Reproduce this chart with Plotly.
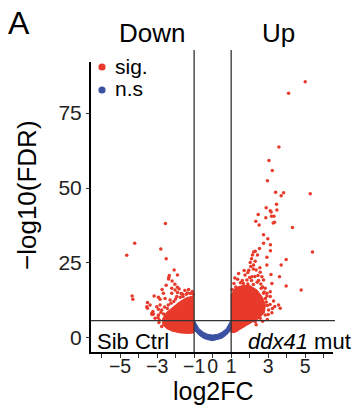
import plotly.graph_objects as go

# ---------------- data ----------------
# individual significant points, up-regulated side
sig_up_x = [5.0, 4.10, 3.58, 3.04, 3.22, 2.96, 3.40, 3.83, 3.70, 5.27, 3.45, 2.89, 3.11, 3.16, 2.46,
            3.47, 2.87, 3.18, 3.31, 2.33, 2.51, 3.27, 3.34, 4.31, 2.75, 2.98, 2.75, 3.12, 2.53, 2.21,
            2.30, 2.15, 2.42, 3.12, 5.39, 3.97, 2.93, 2.03, 2.06, 2.21, 2.93, 3.70, 2.35, 2.57, 3.15,
            3.61, 2.66, 2.75, 3.20, 3.97, 4.78, 2.84, 3.11, 2.93, 3.29, 3.23, 1.66, 1.85, 2.12, 1.49,
            3.65, 2.93, 3.56, 3.02, 2.84, 2.57, 2.30, 3.11, 2.75,
            1.2, 1.4, 1.7, 1.9, 2.2, 2.45, 2.6, 2.7, 2.9, 2.95, 3.1, 2.7, 2.55, 2.4, 2.1, 1.8, 1.5, 1.3, 2.0,
            3.0, 2.95, 2.7, 2.35, 3.2, 3.35, 1.15, 1.35, 1.5, 1.75, 1.95, 2.1, 2.28, 2.48, 2.62, 2.78,
            2.85, 2.2, 1.9, 1.6, 2.55, 2.3, 2.1, 1.05, 1.25, 1.45, 2.0, 2.4]
sig_up_y = [85.4, 81.6, 63.7, 59.2, 55.8, 52.4, 48.6, 48.4, 47.4, 48.1, 44.6, 43.4, 42.4, 42.0, 41.2,
            42.7, 40.1, 40.6, 40.6, 38.9, 37.7, 38.3, 38.6, 36.8, 34.4, 33.1, 31.6, 31.1, 29.8, 28.7,
            28.9, 27.7, 27.7, 29.1, 28.7, 26.2, 26.9, 25.2, 23.8, 24.3, 24.3, 24.3, 22.7, 21.9, 21.2,
            20.4, 20.4, 19.3, 18.2, 17.3, 16.0, 16.6, 15.4, 14.0, 12.3, 9.8, 18.2, 19.3, 20.4, 16.6,
            9.9, 14.9, 11.0, 9.3, 7.7, 6.6, 5.4, 13.8, 14.9,
            20.0, 21.5, 22.5, 21.8, 23.0, 20.8, 18.0, 17.0, 12.0, 10.8, 11.2, 9.0, 8.5, 7.2, 6.0, 4.8, 3.6, 2.7, 5.3,
            7.8, 6.2, 5.6, 4.4, 8.4, 10.5, 18.2, 19.6, 18.4, 21.0, 22.6, 19.2, 20.5, 19.2, 16.6, 15.3,
            13.2, 17.8, 18.0, 19.2, 23.4, 25.6, 26.4, 16.2, 17.0, 16.8, 20.2, 18.6]

# individual significant points, down-regulated side
sig_down_x = [-2.55, -4.21, -4.64, -2.80, -2.51, -2.08, -1.90, -2.34, -2.37, -2.38, -2.19, -4.35, -4.31,
              -2.51, -2.04, -2.73, -2.21, -1.90, -2.93, -2.84, -3.52, -3.52, -3.02, -3.27, -3.23, -3.20,
              -2.03, -1.81, -1.63, -1.43, -2.21, -2.66, -2.84, -2.57, -2.30, -1.94, -2.75, -2.93, -3.11,
              -2.88, -3.38, -3.56, -3.16, -3.29, -2.93,
              -1.1, -1.3, -1.5, -1.7, -1.9, -2.0, -2.1, -2.4, -2.6, -2.8, -2.95, -2.9, -2.75, -1.2, -1.6,
              -1.05, -1.35, -1.75, -2.25, -2.45, -2.65]
sig_down_y = [38.2, 31.6, 27.6, 29.7, 26.4, 22.7, 21.0, 20.8, 20.2, 19.7, 19.0, 14.0, 12.9,
              17.6, 17.9, 16.2, 16.6, 16.9, 13.6, 12.9, 11.8, 9.9, 10.4, 7.8, 8.8, 8.0,
              16.0, 16.3, 14.6, 14.6, 14.9, 14.9, 11.0, 13.2, 12.7, 13.8, 9.3, 7.7, 6.6,
              6.0, 11.0, 10.4, 14.0, 8.2, 9.6,
              15.5, 16.2, 15.8, 14.8, 15.2, 13.0, 12.2, 11.0, 10.3, 8.5, 6.8, 5.2, 3.8, 14.8, 13.8,
              14.6, 15.0, 13.6, 11.6, 9.8, 8.0]

# outlines of the dense point clouds
up_core_x = [1.0, 1.0, 1.2, 1.6, 2.0, 2.4, 2.7, 2.85, 2.8, 2.5, 2.0, 1.5, 1.16]
up_core_y = [1.7, 14.5, 16.5, 17.5, 17.5, 16.0, 13.5, 11.0, 8.5, 6.5, 4.8, 3.0, 1.7]
down_core_x = [-1.0, -1.4, -1.8, -2.2, -2.5, -2.7, -2.7, -2.5, -2.2, -1.76, -1.32, -1.0]
down_core_y = [14.0, 13.5, 12.0, 10.0, 8.5, 6.5, 4.5, 3.2, 2.3, 1.7, 1.5, 1.7]
ns_core_x = [-1.1, -1.0, -0.75, -0.5, -0.25, 0.0, 0.25, 0.5, 0.75, 1.0, 1.1,
             1.1, 1.0, 0.75, 0.5, 0.25, 0.0, -0.25, -0.5, -0.75, -1.0, -1.1]
ns_core_y = [6.0, 6.0, 3.2, 1.9, 1.2, 1.0, 1.2, 1.9, 3.2, 6.0, 6.0,
             2.2, 2.7, 1.0, -0.1, -0.6, -0.9, -0.6, -0.1, 1.0, 2.7, 2.2]

fc_cut = [-1, 1]
fdr_cut = 5.77
x_tickvals = [-6, -5, -4, -3, -2, -1, 0, 1, 2, 3, 4, 5, 6]
x_ticktext = ["", "\u22125", "", "\u22123", "", "\u22121", "0", "1", "", "3", "", "5", ""]
y_tickvals = [0, 25, 50, 75]
y_ticktext = ["0", "25", "50", "75"]

RED = "#E83A2B"
BLUE = "#3B52A3"
FONT = "Liberation Sans, Arial, sans-serif"

# ---------------- layout geometry ----------------
W, H = 357, 412
L, R, T, B = 91, 24, 62, 60
pw, ph = W - L - R, H - T - B


def px(x):
    return (x - L) / pw


def py(y):
    return (H - B - y) / ph


fig = go.Figure()

fig.add_trace(go.Scatter(x=ns_core_x, y=ns_core_y, mode="lines", fill="toself",
                         fillcolor=BLUE, line=dict(color=BLUE, width=1), showlegend=False,
                         hoverinfo="skip"))
fig.add_trace(go.Scatter(x=up_core_x, y=up_core_y, mode="lines", fill="toself",
                         fillcolor=RED, line=dict(color=RED, width=1), showlegend=False,
                         hoverinfo="skip"))
fig.add_trace(go.Scatter(x=down_core_x, y=down_core_y, mode="lines", fill="toself",
                         fillcolor=RED, line=dict(color=RED, width=1), showlegend=False,
                         hoverinfo="skip"))
fig.add_trace(go.Scatter(x=sig_up_x + sig_down_x, y=sig_up_y + sig_down_y, mode="markers",
                         marker=dict(color=RED, size=3.5, line=dict(width=0)), showlegend=False))

# cut-off lines
for xv in fc_cut:
    fig.add_shape(type="line", xref="x", yref="paper", x0=xv, x1=xv, y0=0, y1=py(50),
                  line=dict(color="#333333", width=1.3))
fig.add_shape(type="line", xref="paper", yref="y", x0=0, x1=1.008, y0=fdr_cut, y1=fdr_cut,
              line=dict(color="#333333", width=1.3))

# manual legend
for yy, col in [(67, RED), (90, BLUE)]:
    fig.add_shape(type="circle", xref="paper", yref="paper",
                  x0=px(102 - 3.6), x1=px(102 + 3.6), y0=py(yy + 3.6), y1=py(yy - 3.6),
                  fillcolor=col, line=dict(width=0))

annos = [
    ("A", 19, 23, 32, "center", 0),
    ("Down", 152, 33, 26, "center", 0),
    ("Up", 278, 33, 26, "center", 0),
    ("sig.", 113, 66, 21, "left", 0),
    ("n.s", 113, 89, 21, "left", 0),
    ("Sib Ctrl", 95, 341, 22, "left", 0),
    ("<i>ddx41</i> mut", 246, 341, 22, "left", 0),
    ("log2FC", 213, 391, 25, "center", 0),
    ("\u2212log10(FDR)", 27, 195, 26, "center", -90),
]
for txt, ax, ay, fs, xa, ang in annos:
    fig.add_annotation(text=txt, xref="paper", yref="paper", x=px(ax), y=py(ay),
                       xanchor=xa, yanchor="middle", showarrow=False, textangle=ang,
                       font=dict(size=fs, color="black", family=FONT))

fig.update_layout(
    width=W, height=H, margin=dict(l=L, r=R, t=T, b=B),
    plot_bgcolor="white", paper_bgcolor="white",
    font=dict(family=FONT, color="black"),
    showlegend=False,
    xaxis=dict(range=[-6.57, 6.5], tickmode="array", tickvals=x_tickvals, ticktext=x_ticktext,
               tickangle=0, ticklabelstandoff=-8,
               showgrid=False, zeroline=False, showline=True, linecolor="black", linewidth=2,
               ticks="outside", ticklen=4, tickwidth=1.2, tickcolor="#333333",
               tickfont=dict(size=19.5, color="#222222")),
    yaxis=dict(range=[-4.67, 92], tickmode="array", tickvals=y_tickvals, ticktext=y_ticktext,
               showgrid=False, zeroline=False, showline=True, linecolor="black", linewidth=2,
               ticks="outside", ticklen=3, tickwidth=1.2, tickcolor="#333333",
               tickfont=dict(size=21, color="#222222")),
)

fig.write_html("out.html", config={"displayModeBar": False},
               post_script="document.body.style.margin='0';")
